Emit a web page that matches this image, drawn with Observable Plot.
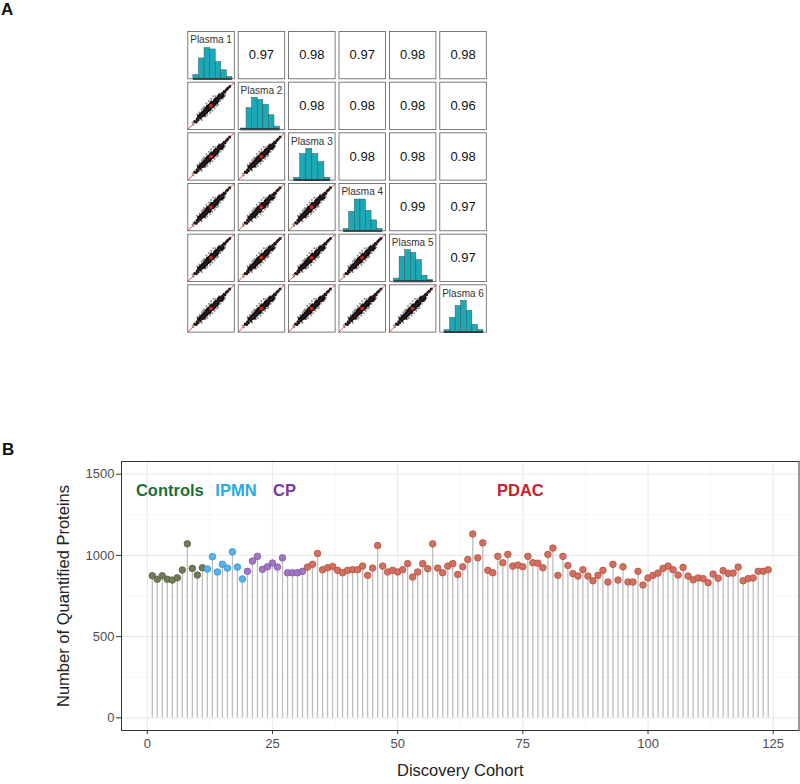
<!DOCTYPE html>
<html><head><meta charset="utf-8">
<script src="https://cdn.jsdelivr.net/npm/d3@7"></script>
<script src="https://cdn.jsdelivr.net/npm/@observablehq/plot@0.6"></script>
<style>
body{margin:0;background:#fff;font-family:"Liberation Sans",Arial,sans-serif}
#wrap{position:relative;width:800px;height:784px;overflow:hidden;background:#fff}
.tag{position:absolute;font-weight:bold;font-size:17px;line-height:17px;color:#111}
svg{overflow:visible}
</style></head>
<body><div id="wrap">
<div id="pa" style="position:absolute;left:0;top:0"></div>
<div id="pb" style="position:absolute;left:0;top:420px"></div>
<div class="tag" style="left:1px;top:1px">A</div>
<div class="tag" style="left:2px;top:441px">B</div>
</div>
<script>
// ---------- Panel A data ----------
const plasmaNames = ["Plasma 1","Plasma 2","Plasma 3","Plasma 4","Plasma 5","Plasma 6"];
// upper-triangle correlations, row by row (row<col)
const corrValues = [0.97,0.98,0.97,0.98,0.98, 0.98,0.98,0.98,0.96, 0.98,0.98,0.98, 0.99,0.97, 0.97];
// histogram bins per plasma (normalised intensity scale)
const histEdges = [
  [0.12,0.24,0.36,0.48,0.60,0.72,0.84,0.96],
  [0.06,0.18,0.30,0.42,0.54,0.66,0.78,0.90],
  [0.12,0.25,0.38,0.51,0.64,0.77,0.90],
  [0.10,0.22,0.34,0.46,0.58,0.70,0.82,0.94],
  [0.10,0.22,0.34,0.46,0.58,0.70,0.82,0.94],
  [0.10,0.22,0.34,0.46,0.58,0.70,0.82,0.94]
];
const histHeights = [
  [0.08,0.43,0.65,0.62,0.35,0.18,0.04],
  [0.02,0.45,0.67,0.62,0.52,0.30,0.06],
  [0.05,0.55,0.66,0.55,0.38,0.05],
  [0.04,0.40,0.66,0.66,0.42,0.22,0.04],
  [0.06,0.52,0.66,0.60,0.45,0.12,0.03],
  [0.04,0.30,0.55,0.66,0.45,0.15,0.04]
];
// pairwise scatter cloud (sample vs sample, normalised)
const cloudU = [0.15,0.18,0.20,0.22,0.25,0.27,0.28,0.30,0.32,0.33,0.35,0.36,0.38,0.39,0.40,0.41,0.42,0.43,0.44,0.45,0.46,0.47,0.48,0.49,0.50,0.51,0.52,0.53,0.54,0.55,0.56,0.57,0.58,0.59,0.60,0.62,0.63,0.65,0.66,0.68,0.70,0.72,0.74,0.76,0.78,0.80,0.83,0.86,0.90,0.34,0.44,0.47,0.53,0.57,0.37,0.61,0.29,0.24,0.50,0.46,0.55,0.64,0.41,
  0.31,0.36,0.40,0.43,0.48,0.52,0.56,0.60,0.64,0.68,0.35,0.39,0.45,0.49,0.54,0.58,0.62,0.66,0.27,0.72,0.23,0.76,0.42,0.47,0.51,0.57];
const cloudV = [0.17,0.16,0.22,0.20,0.27,0.24,0.30,0.28,0.35,0.30,0.37,0.33,0.40,0.36,0.43,0.38,0.45,0.40,0.47,0.42,0.50,0.44,0.51,0.46,0.53,0.48,0.55,0.50,0.57,0.52,0.58,0.54,0.60,0.56,0.62,0.60,0.66,0.62,0.68,0.66,0.72,0.70,0.76,0.75,0.80,0.79,0.84,0.87,0.91,0.38,0.41,0.50,0.49,0.60,0.34,0.58,0.33,0.26,0.47,0.45,0.56,0.61,0.44,
  0.36,0.41,0.36,0.48,0.43,0.57,0.51,0.65,0.59,0.73,0.30,0.45,0.51,0.54,0.49,0.63,0.56,0.71,0.32,0.67,0.28,0.70,0.49,0.41,0.58,0.52];
const greyU = [0.20,0.30,0.35,0.48,0.40,0.58,0.25,0.62,0.50,0.70,0.55,0.12,0.10,0.45,0.65,0.30,0.75,0.42,0.33,0.53,0.68,0.38,0.60,0.22,0.80,0.47];
const greyV = [0.32,0.20,0.48,0.35,0.55,0.45,0.36,0.50,0.65,0.60,0.70,0.10,0.14,0.60,0.52,0.42,0.65,0.30,0.45,0.40,0.76,0.27,0.70,0.30,0.72,0.56];
const identityLine = [0, 1];

// ---------- Panel B data ----------
const groupNames = ["Controls","IPMN","CP","PDAC"];
const groupSizes = [11, 8, 12, 93];
const groupLabelX = [4.5, 17.7, 27.4, 74.5];
const groupLabelY = [1400, 1400, 1400, 1400];
const proteinCounts = [
  875,853,875,853,848,862,910,1071,920,879,924,
  916,992,898,945,922,1022,928,855,
  902,965,994,914,930,953,928,985,893,893,893,902,
  928,945,1012,912,924,932,908,893,908,912,912,934,877,922,1061,934,898,908,898,912,
  949,867,898,949,918,1071,922,893,934,949,883,930,975,1132,985,1077,908,893,994,955,
  1006,934,940,930,994,955,952,924,1006,1045,877,994,938,888,873,912,873,844,877,908,
  836,945,848,930,836,836,902,818,861,877,891,920,934,912,879,926,873,850,861,857,
  832,885,859,906,889,891,928,844,857,861,902,902,912
];
const xMajor = [0,25,50,75,100,125];
const xMinor = [12.5,37.5,62.5,87.5,112.5];
const yMajor = [0,500,1000,1500];
const yMinor = [250,750,1250];

// ---------- styles ----------
const groupFill = {Controls:"#707b59", IPMN:"#58b3e8", CP:"#a077c0", PDAC:"#d2705f"};
const groupStroke = {Controls:"#58623f", IPMN:"#2f8fd0", CP:"#7f55a2", PDAC:"#b5503f"};
const groupText = {Controls:"#17703c", IPMN:"#29abe2", CP:"#7b3a9e", PDAC:"#c8202f"};
const FONT = "Liberation Sans, Arial, Helvetica, sans-serif";

// ---------- Panel A ----------
const upperCells = [], lowerCells = [], diagCells = [];
let k = 0;
for (let r = 1; r <= 6; r++) for (let c = 1; c <= 6; c++) {
  if (r < c) upperCells.push({row:r, col:c, r2:corrValues[k++]});
  else if (r > c) lowerCells.push({row:r, col:c});
  else diagCells.push({row:r, col:c, name:plasmaNames[r-1],
    lo:histEdges[r-1][0], hi:histEdges[r-1][histEdges[r-1].length-1]});
}
const histData = diagCells.flatMap(d => histHeights[d.row-1].map((h,i) => ({
  row:d.row, col:d.col, x1:histEdges[d.row-1][i], x2:histEdges[d.row-1][i+1], h})));
const cloud = cloudU.map((u,i) => ({u, v:cloudV[i]}));
const grey = greyU.map((u,i) => ({u, v:greyV[i]}));
const scatterData = lowerCells.flatMap(c => cloud.map(p => ({...c, ...p})));
const greyData = lowerCells.flatMap(c => grey.map(p => ({...c, ...p})));
const lineData = lowerCells.flatMap(c => identityLine.map(t => ({...c, t})));
const mu = d3.mean(cloudU), mv = d3.mean(cloudV);

const A = Plot.plot({
  width: 500, height: 342,
  marginLeft: 187.3, marginRight: 14.2, marginTop: 31, marginBottom: 10.4,
  style: {fontFamily: FONT, background: "transparent"},
  fx: {domain: d3.range(1,7), paddingInner: 0.077, paddingOuter: 0, round: false, axis: null},
  fy: {domain: d3.range(1,7), paddingInner: 0.0665, paddingOuter: 0, round: false, axis: null},
  x: {domain: [0,1], axis: null},
  y: {domain: [0,1], axis: null},
  marks: [
    Plot.line(lineData, {fx:"col", fy:"row", x:"t", y:"t", stroke:"#e0301e", strokeWidth:0.7, strokeDasharray:"2,1"}),
    Plot.dot(greyData, {fx:"col", fy:"row", x:"u", y:"v", r:1, fill:"#8a8a8a", stroke:null}),
    Plot.dot(scatterData, {fx:"col", fy:"row", x:"u", y:"v", r:1.5, fill:"#111", stroke:null}),
    Plot.line(lineData, {fx:"col", fy:"row", x:"t", y:"t", stroke:"#e0301e", strokeWidth:0.5, strokeOpacity:0.8}),
    Plot.dot(lowerCells, {fx:"col", fy:"row", x:() => mu, y:() => mv, r:1.8, fill:"#e8201a", stroke:null}),
    Plot.rectY(histData, {fx:"col", fy:"row", x1:"x1", x2:"x2", y1:0, y2:"h", fill:"#1aa9b5", stroke:"#2a5a5e", strokeWidth:0.5}),
    Plot.ruleY(diagCells, {fx:"col", fy:"row", y:0, x1:"lo", x2:"hi", stroke:"#111", strokeWidth:1.8}),
    Plot.text(diagCells, {fx:"col", fy:"row", frameAnchor:"top", lineAnchor:"middle", dy:8.5, text:"name", fontSize:10, fill:"#333"}),
    Plot.text(upperCells, {fx:"col", fy:"row", frameAnchor:"middle", text: d => d.r2.toFixed(2), fontSize:13, fill:"#111"}),
    Plot.frame({stroke:"#5a5a5a", strokeWidth:0.8})
  ]
});
document.getElementById("pa").appendChild(A);

// ---------- Panel B ----------
const samples = [];
let idx = 1;
groupNames.forEach((g, gi) => {
  for (let j = 0; j < groupSizes[gi]; j++, idx++) samples.push({idx, count: proteinCounts[idx-1], group: g});
});
const groupLabels = groupNames.map((g,i) => ({g, x: groupLabelX[i], y: groupLabelY[i]}));

const B = Plot.plot({
  width: 800, height: 364,
  marginLeft: 121, marginRight: 1.5, marginTop: 41, marginBottom: 54,
  style: {fontFamily: FONT, fontSize: "13px", color: "#4d4d4d", background: "transparent"},
  x: {domain: [-5.15, 130.15]},
  y: {domain: [-78, 1578]},
  marks: [
    Plot.ruleX(xMinor, {stroke:"#f3f3f3", strokeWidth:0.7}),
    Plot.ruleY(yMinor, {stroke:"#f3f3f3", strokeWidth:0.7}),
    Plot.ruleX(xMajor, {stroke:"#ebebeb", strokeWidth:1.2}),
    Plot.ruleY(yMajor, {stroke:"#ebebeb", strokeWidth:1.2}),
    Plot.ruleX(samples, {x:"idx", y1:0, y2:"count", stroke:"#bdbdbd", strokeWidth:1.3}),
    Plot.dot(samples, {x:"idx", y:"count", r:3.3, fill: d => groupFill[d.group], stroke: d => groupStroke[d.group], strokeWidth:0.8}),
    Plot.text(groupLabels, {x:"x", y:"y", text:"g", fill: d => groupText[d.g], fontWeight:"bold", fontSize:16.5}),
    Plot.frame({stroke:"#333", strokeWidth:1}),
    Plot.axisX({ticks: xMajor, tickFormat: d => String(d), tickSize:4, tickPadding:4, label:null, stroke:"#333", fill:"#4d4d4d"}),
    Plot.axisY({ticks: yMajor, tickFormat: d => String(d), tickSize:5, tickPadding:2, label:null, stroke:"#333", fill:"#4d4d4d"}),
    Plot.text(["Number of Quantified Proteins"], {frameAnchor:"left", textAnchor:"middle", dx:-57.5, rotate:-90, fontSize:16.5, fill:"#222"}),
    Plot.text(["Discovery Cohort"], {frameAnchor:"bottom", dy:45, fontSize:16.5, fill:"#222"})
  ]
});
document.getElementById("pb").appendChild(B);
</script>
</body></html>
